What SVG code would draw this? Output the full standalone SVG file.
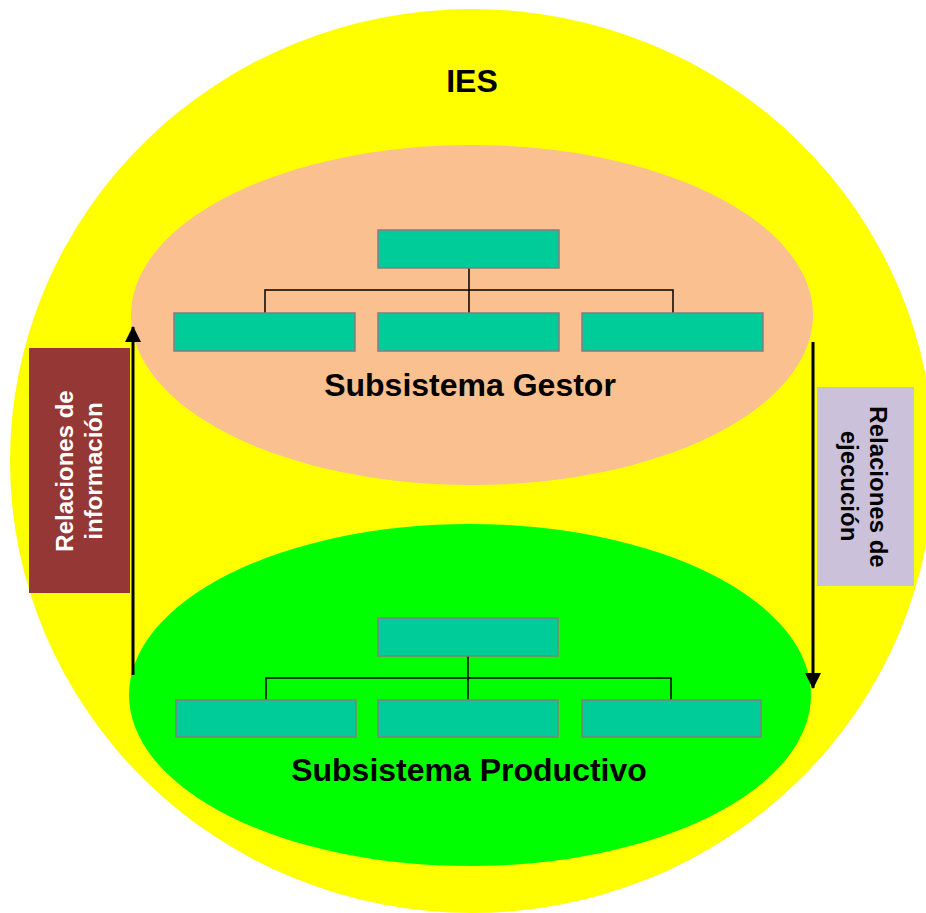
<svg xmlns="http://www.w3.org/2000/svg" width="926" height="913" viewBox="0 0 926 913">
  <defs>
    <style>
      .box { fill: #00CC99; stroke: #808080; stroke-width: 1.5; }
      .tree { fill: none; stroke: #000000; stroke-width: 1.5; }
      .arrow { fill: none; stroke: #000000; stroke-width: 3; }
      .title { font-family: "Liberation Sans", Arial, sans-serif; font-weight: bold; font-size: 32px; fill: #000000; text-anchor: middle; }
      .lbl { font-family: "Liberation Sans", Arial, sans-serif; font-weight: bold; font-size: 24px; text-anchor: middle; }
    </style>
    <marker id="head" markerUnits="userSpaceOnUse" markerWidth="16" markerHeight="16" viewBox="0 0 16 16" refX="15" refY="8" orient="auto">
      <path d="M0,0 L16,8 L0,16 Z" fill="#000000"/>
    </marker>
  </defs>

  <g id="ies">
    <ellipse cx="472" cy="461" rx="462" ry="452" fill="#FFFF00"/>
    <text class="title" x="472" y="92">IES</text>
  </g>

  <g id="gestor">
    <ellipse cx="472" cy="315" rx="341" ry="170" fill="#FAC090"/>
    <text class="title" x="470" y="396">Subsistema Gestor</text>
  </g>

  <g id="productivo">
    <ellipse cx="470" cy="695" rx="341" ry="171" fill="#00FF00"/>
    <text class="title" x="469" y="781">Subsistema Productivo</text>
  </g>

  <g id="connectors">
    <path class="tree" d="M469,268 V313 M265,313 V290 H673 V313"/>
    <path class="tree" d="M468,656 V700 M266,700 V678 H671 V700"/>
    <line class="arrow" x1="133" y1="675" x2="133" y2="327" marker-end="url(#head)"/>
    <line class="arrow" x1="813" y1="342" x2="813" y2="688" marker-end="url(#head)"/>
  </g>

  <g id="g-top"><rect class="box" x="378" y="230" width="181" height="38"/></g>
  <g id="g-left"><rect class="box" x="174" y="313" width="181" height="38"/></g>
  <g id="g-mid"><rect class="box" x="378" y="313" width="181" height="38"/></g>
  <g id="g-right"><rect class="box" x="582" y="313" width="181" height="38"/></g>

  <g id="p-top"><rect class="box" x="378" y="618" width="180" height="38"/></g>
  <g id="p-left"><rect class="box" x="176" y="700" width="180" height="37"/></g>
  <g id="p-mid"><rect class="box" x="378" y="700" width="180" height="37"/></g>
  <g id="p-right"><rect class="box" x="582" y="700" width="179" height="37"/></g>

  <g id="rel-info">
    <rect x="29" y="348" width="101" height="245" fill="#953735"/>
    <text class="lbl" fill="#FFFFFF" transform="translate(73,471) rotate(-90)">Relaciones de</text>
    <text class="lbl" fill="#FFFFFF" transform="translate(102,471) rotate(-90)">información</text>
  </g>

  <g id="rel-ejec">
    <rect x="817" y="387" width="97" height="199" fill="#CCC1DA"/>
    <text class="lbl" fill="#000000" transform="translate(870,487) rotate(90)">Relaciones de</text>
    <text class="lbl" fill="#000000" transform="translate(841,486) rotate(90)">ejecución</text>
  </g>
</svg>
